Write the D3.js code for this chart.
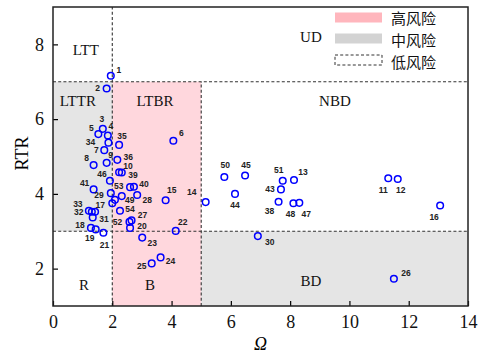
<!DOCTYPE html>
<html><head><meta charset="utf-8">
<script src="https://cdn.jsdelivr.net/npm/d3@7"></script>
<style>body{margin:0;background:#fff}svg{display:block}</style>
</head><body>
<svg id="chart" width="484" height="354"></svg>
<script>
// Sample ids and their coordinates (Ω, RTR)
const ids   = [1,2,3,4,5,6,7,8,9,10,11,12,13,14,15,16,17,18,19,20,21,22,23,24,25,26,27,28,29,30,31,32,33,34,35,36,37,38,39,40,41,42,43,44,45,46,47,48,49,50,51,52,53,54];
const omega = [1.95,1.81,1.68,1.85,1.53,4.06,1.73,1.37,1.81,2.23,11.31,11.63,8.13,5.15,3.80,13.06,2.00,1.28,1.44,2.60,1.70,4.14,3.01,3.63,3.33,11.50,2.65,2.84,2.09,6.91,1.42,1.34,1.21,1.87,2.23,2.17,2.32,7.61,2.60,2.73,1.37,1.31,7.69,6.14,6.48,1.92,8.31,8.11,2.32,5.78,7.75,2.58,1.95,2.26];
const rtr   = [7.16,6.82,5.74,5.56,5.60,5.42,5.17,4.77,4.83,4.58,4.42,4.40,4.37,3.78,3.83,3.69,3.75,3.09,3.05,3.09,2.96,3.01,2.83,2.30,2.14,1.73,3.29,3.97,3.84,2.87,3.52,3.37,3.55,5.37,5.31,4.91,4.57,3.79,4.18,4.19,4.12,3.52,4.12,4.00,4.49,4.35,3.76,3.75,3.94,4.45,4.35,3.25,4.02,3.55];
// label offset (px) from each marker centre
const labelDx = [8,-9,-1,3,-7,8,-8,-7,4,9,-5,3,9,-14,6,-6,-12,-11,-6,12,1,7,10,10,-10,12,11,10,-16,12,9,-14,-11,-18,3,11,0,-9,3,10,-9,0,-11,0,1,-8,7,-3,8,1,-4,-12,8,10];
const labelDy = [-6,0,-10,-10,-6,-8,0,-7,-8,-6,12,11,-8,-10,-10,12,2,-3,9,-2,12,-9,5,4,3,-6,-5,5,-5,6,7,-5,-7,-1,-9,-3,0,9,-12,-3,-6,0,0,11,-11,-7,11,11,4,-12,-11,0,-7,-2];
const hiddenLabels = [37,42];

const xTicks = [0,2,4,6,8,10,12,14];
const yTicks = [2,4,6,8];
const omegaCuts = [2,5];
const rtrCuts = [3,7];

// shaded risk zones: [x0,x1,y0,y1,level]
const zoneX0 = [2,0,5];
const zoneX1 = [5,2,14];
const zoneY0 = [1,3,1];
const zoneY1 = [7,7,3];
const zoneLevel = ["high","mid","mid"];

const zoneNames = ["LTT","UD","LTTR","LTBR","NBD","R","B","BD"];
const zoneNameX = [1.11,8.70,0.84,3.44,9.51,1.05,3.27,8.70];
const zoneNameY = [7.85,8.20,6.49,6.49,6.49,1.56,1.56,1.67];

const legendLabels = ["高风险","中风险","低风险"];

const W = 484, H = 354;
const margin = {left:53, right:16, top:7, bottom:48};
const svg = d3.select("#chart");
const x = d3.scaleLinear().domain([0,14]).range([margin.left, W-margin.right]);
const y = d3.scaleLinear().domain([1,9]).range([H-margin.bottom, margin.top]);
const fill = {high:"rgba(255,182,193,0.55)", mid:"rgba(211,211,211,0.6)"};

// zones
svg.append("g").selectAll("rect").data(zoneX0).join("rect")
  .attr("x",(d,i)=>x(zoneX0[i])).attr("width",(d,i)=>x(zoneX1[i])-x(zoneX0[i]))
  .attr("y",(d,i)=>y(zoneY1[i])).attr("height",(d,i)=>y(zoneY0[i])-y(zoneY1[i]))
  .attr("fill",(d,i)=>fill[zoneLevel[i]]);

// threshold lines
const dash = "3,2.2";
const lines = svg.append("g").attr("stroke","#333").attr("stroke-width",1.1).attr("stroke-dasharray",dash).attr("fill","none");
lines.append("line").attr("x1",x(omegaCuts[0])).attr("x2",x(omegaCuts[0])).attr("y1",y(1)).attr("y2",y(9));
lines.append("line").attr("x1",x(omegaCuts[1])).attr("x2",x(omegaCuts[1])).attr("y1",y(1)).attr("y2",y(rtrCuts[1]));
rtrCuts.forEach(c=>lines.append("line").attr("x1",x(0)).attr("x2",x(14)).attr("y1",y(c)).attr("y2",y(c)));

// zone names
svg.append("g").selectAll("text").data(zoneNames).join("text")
  .attr("x",(d,i)=>x(zoneNameX[i])).attr("y",(d,i)=>y(zoneNameY[i]))
  .attr("text-anchor","middle").attr("dominant-baseline","central")
  .attr("font-family","Liberation Serif, serif").attr("font-size",15).attr("fill","#111")
  .text(d=>d);

// axes (ticks pointing inward)
const xAxis = d3.axisBottom(x).tickValues(xTicks).tickSizeInner(-5).tickSizeOuter(0).tickPadding(9);
const yAxis = d3.axisLeft(y).tickValues(yTicks).tickSizeInner(-5).tickSizeOuter(0).tickPadding(9);
const gx = svg.append("g").attr("transform",`translate(0,${y(1)})`).call(xAxis);
const gy = svg.append("g").attr("transform",`translate(${x(0)},0)`).call(yAxis);
[gx,gy].forEach(g=>{
  g.select(".domain").remove();
  g.selectAll("line").attr("stroke","#000").attr("stroke-width",1.2);
  g.selectAll("text").attr("font-family","Liberation Serif, serif").attr("font-size",18).attr("fill","#111");
});
// frame
svg.append("rect").attr("x",x(0)).attr("y",y(9)).attr("width",x(14)-x(0)).attr("height",y(1)-y(9))
  .attr("fill","none").attr("stroke","#222").attr("stroke-width",1.5);

// axis titles
svg.append("text").attr("x",x(7)).attr("y",350).attr("text-anchor","middle")
  .attr("font-family","Liberation Serif, serif").attr("font-style","italic").attr("font-size",18).text("Ω");
svg.append("text").attr("transform",`translate(28,${(y(9)+y(1))/2 - 3}) rotate(-90)`).attr("text-anchor","middle")
  .attr("font-family","Liberation Serif, serif").attr("font-size",18).text("RTR");

// points
const pts = ids.map((id,i)=>({id, o:omega[i], r:rtr[i], dx:labelDx[i], dy:labelDy[i]}));
svg.append("g").selectAll("circle").data(pts).join("circle")
  .attr("cx",d=>x(d.o)).attr("cy",d=>y(d.r)).attr("r",3.3)
  .attr("fill","none").attr("stroke","#0000ff").attr("stroke-width",1.5);
svg.append("g").selectAll("text").data(pts.filter(d=>!hiddenLabels.includes(d.id))).join("text")
  .attr("x",d=>x(d.o)+d.dx).attr("y",d=>y(d.r)+d.dy)
  .attr("text-anchor","middle").attr("dominant-baseline","central")
  .attr("font-family","Liberation Sans, Arial, sans-serif").attr("font-weight","bold").attr("font-size",8.5).attr("fill","#222")
  .text(d=>d.id);

// legend
const lg = svg.append("g");
const lx0 = 335, lw = 47, lh = 10, rows = [17.5, 38.5, 60], textRows = [17.5, 39.5, 61.5];
lg.append("rect").attr("x",lx0).attr("y",rows[0]-lh/2).attr("width",lw).attr("height",lh).attr("fill","#ffb6bd");
lg.append("rect").attr("x",lx0).attr("y",rows[1]-lh/2).attr("width",lw).attr("height",lh).attr("fill","#d3d3d3");
lg.append("rect").attr("x",lx0).attr("y",rows[2]-lh/2).attr("width",lw).attr("height",lh)
  .attr("fill","none").attr("stroke","#333").attr("stroke-width",1).attr("stroke-dasharray",dash);
lg.selectAll("text").data(legendLabels).join("text")
  .attr("x",391).attr("y",(d,i)=>textRows[i]).attr("dominant-baseline","central")
  .attr("font-family","Noto Sans CJK SC, sans-serif").attr("font-size",15).attr("fill","#111")
  .text(d=>d);
</script>
</body></html>
